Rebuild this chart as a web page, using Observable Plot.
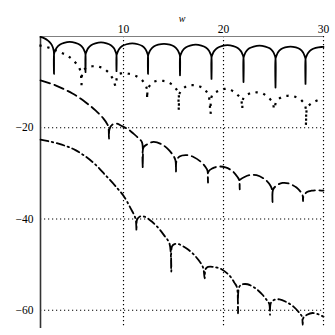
<!DOCTYPE html>
<html><head><meta charset="utf-8">
<script src="https://cdn.jsdelivr.net/npm/d3@7"></script>
<script src="https://cdn.jsdelivr.net/npm/@observablehq/plot@0.6"></script>
<style>body{margin:0;background:#fff}</style>
</head><body><div id="chart"></div>
<script>
const xTicks = [10, 20, 30];
const yTicks = [-20, -40, -60];
const xLabel = "w";

// [w, dB]
const solidCurve = [
  [1.7,-0.1],[2.1,-0.4],[2.45,-0.9],[2.75,-1.6],[2.92,-2.3],[3.0,-2.9],[3.04,-3.4],[3.05,-8.2],
  [3.06,-3.8],[3.15,-3.2],[3.3,-2.5],[3.62,-1.8],[4.06,-1.4],[4.62,-1.2],[5.19,-1.4],[5.63,-1.8],[5.95,-2.5],[6.1,-3.2],[6.19,-3.8],[6.2,-7.8],
  [6.21,-3.9],[6.3,-3.3],[6.45,-2.6],[6.76,-1.9],[7.19,-1.5],[7.75,-1.3],[8.31,-1.5],[8.74,-1.9],[9.05,-2.6],[9.2,-3.3],[9.29,-3.9],[9.3,-7.6],
  [9.31,-4.1],[9.4,-3.5],[9.55,-2.8],[9.87,-2.1],[10.31,-1.7],[10.88,-1.5],[11.44,-1.7],[11.88,-2.1],[12.2,-2.8],[12.35,-3.5],[12.44,-4.1],[12.45,-8.2],
  [12.46,-4.2],[12.55,-3.6],[12.71,-2.9],[13.03,-2.2],[13.47,-1.8],[14.05,-1.6],[14.63,-1.8],[15.07,-2.2],[15.39,-2.9],[15.55,-3.6],[15.64,-4.2],[15.65,-8.5],
  [15.66,-4.4],[15.75,-3.8],[15.9,-3.1],[16.22,-2.4],[16.66,-2.0],[17.23,-1.8],[17.79,-2.0],[18.23,-2.4],[18.55,-3.1],[18.7,-3.8],[18.79,-4.4],[18.8,-9.3],
  [18.81,-4.5],[18.9,-3.9],[19.06,-3.2],[19.38,-2.5],[19.82,-2.1],[20.4,-1.9],[20.98,-2.1],[21.42,-2.5],[21.74,-3.2],[21.9,-3.9],[21.99,-4.5],[22.0,-10.0],
  [22.01,-4.6],[22.1,-4.0],[22.26,-3.3],[22.58,-2.6],[23.02,-2.2],[23.6,-2.0],[24.18,-2.2],[24.62,-2.6],[24.94,-3.3],[25.1,-4.0],[25.19,-4.6],[25.2,-11.2],
  [25.21,-4.8],[25.3,-4.2],[25.44,-3.5],[25.74,-2.8],[26.16,-2.4],[26.7,-2.2],[27.24,-2.4],[27.66,-2.8],[27.96,-3.5],[28.1,-4.2],[28.19,-4.8],[28.2,-10.4],
  [28.21,-4.9],[28.3,-4.3],[28.46,-3.6],[28.78,-2.9],[29.22,-2.5],[29.8,-2.3],[30,-2.3]
];

const dottedCurve = [
  [1.7,-2.0],[2.6,-2.5],[3.6,-3.4],[4.4,-4.2],[5.1,-5.5],[5.6,-7.0],[5.75,-8.6],[5.8,-10.5],[5.85,-8.5],
  [6.2,-7.0],[7.1,-6.5],[7.9,-6.9],[8.55,-8.0],[9.0,-9.6],[9.2,-10.8],[9.35,-9.0],
  [9.6,-8.2],[10.3,-8.1],[11.2,-8.6],[11.95,-9.8],[12.3,-11.2],[12.37,-13.6],[12.45,-11.5],
  [12.97,-10.0],[13.85,-9.7],[14.7,-10.3],[15.3,-11.6],[15.5,-12.4],[15.53,-16.2],[15.6,-12.5],
  [16.3,-10.9],[17.2,-10.7],[18.0,-11.4],[18.5,-12.9],[18.7,-16.9],[18.85,-13.0],
  [19.6,-11.8],[20.45,-11.5],[21.2,-12.4],[21.75,-13.8],[21.87,-15.8],[22.0,-13.5],
  [22.9,-12.3],[23.9,-12.5],[24.5,-13.4],[24.95,-14.6],[25.05,-15.9],[25.35,-14.0],
  [26.1,-13.1],[27.0,-13.1],[27.8,-14.0],[28.2,-15.5],[28.25,-19.5],[28.4,-15.5],
  [29.0,-14.4],[29.9,-13.6],[30,-13.6]
];

const dashedCurve = [
  [1.7,-9.6],[3.2,-10.7],[4.9,-12.5],[6.2,-14.4],[7.2,-16.2],[8.0,-18.0],[8.4,-19.3],[8.5,-19.9],[8.55,-22.4],
  [8.6,-20.3],[8.9,-19.3],[9.3,-19.1],[9.9,-19.7],[10.5,-20.4],[11.0,-21.3],[11.5,-22.3],[11.85,-23.2],[11.92,-28.8],
  [12.0,-24.3],[12.4,-23.6],[13.0,-23.1],[13.8,-23.6],[14.5,-24.8],[15.0,-26.2],[15.2,-27.2],[15.25,-29.6],
  [15.3,-27.3],[15.6,-26.3],[16.3,-26.0],[17.0,-26.4],[17.7,-27.4],[18.2,-28.6],[18.4,-29.4],[18.45,-32.0],
  [18.5,-29.6],[18.9,-28.9],[19.5,-28.5],[20.2,-28.7],[20.9,-29.5],[21.4,-30.8],[21.58,-31.5],[21.62,-33.5],
  [21.68,-31.4],[22.1,-30.8],[22.6,-30.4],[23.3,-30.4],[24.2,-31.4],[24.7,-32.7],[24.85,-33.5],[24.9,-36.3],
  [24.95,-33.6],[25.35,-32.6],[25.9,-32.1],[26.5,-32.2],[27.3,-33.1],[27.8,-34.3],[27.92,-34.9],[27.95,-36.1],
  [28.0,-35.0],[28.35,-34.1],[28.8,-33.8],[29.4,-33.7],[30,-33.8]
];

const dashDotCurve = [
  [1.7,-22.6],[3.5,-23.5],[5.2,-24.9],[6.9,-27.5],[8.2,-30.4],[9.4,-33.3],[10.0,-34.9],[10.7,-37.6],[11.2,-39.9],[11.3,-42.5],
  [11.35,-40.2],[11.6,-39.5],[12.1,-39.5],[12.8,-40.5],[13.5,-42.0],[14.1,-43.7],[14.6,-45.4],[14.78,-51.5],
  [14.85,-46.0],[15.1,-45.5],[15.5,-45.5],[16.2,-46.3],[16.9,-47.5],[17.5,-49.0],[17.95,-50.6],[18.12,-53.0],
  [18.2,-51.0],[18.45,-50.5],[19.0,-50.5],[19.8,-51.0],[20.6,-52.4],[21.1,-54.0],[21.35,-55.0],[21.45,-60.7],
  [21.55,-55.0],[21.8,-54.4],[22.4,-54.3],[23.2,-55.2],[23.9,-56.6],[24.4,-58.0],[24.58,-58.6],[24.65,-61.0],
  [24.72,-58.5],[25.0,-57.8],[25.6,-57.6],[26.3,-58.2],[27.0,-59.2],[27.6,-60.6],[27.85,-61.4],[27.92,-63.2],
  [28.0,-61.6],[28.35,-61.0],[28.9,-60.6],[29.5,-60.9],[30,-61.4]
];

const serif = '"Liberation Serif","Times New Roman",serif';
const grid = {stroke: "#000", strokeWidth: 1.2, strokeDasharray: "1.2,2.8"};

const chart = Plot.plot({
  width: 335, height: 335,
  marginLeft: 40, marginRight: 12, marginTop: 36, marginBottom: 7,
  x: {domain: [1.7, 30], axis: null},
  y: {domain: [-64, 0], axis: null},
  style: {background: "#fff", fontFamily: serif, color: "#000"},
  marks: [
    Plot.ruleX(xTicks, grid),
    Plot.ruleY(yTicks, grid),
    Plot.ruleY([0], {stroke: "#808080", strokeWidth: 1}),
    Plot.ruleX([1.7], {stroke: "#333", strokeWidth: 1.6}),
    Plot.line(solidCurve, {stroke: "#000", strokeWidth: 1.8, curve: "catmull-rom"}),
    Plot.line(dottedCurve, {stroke: "#000", strokeWidth: 2.2, strokeDasharray: "0.1,7.8", strokeLinecap: "square", curve: "catmull-rom"}),
    Plot.line(dashedCurve, {stroke: "#000", strokeWidth: 1.8, strokeDasharray: "10,4.5", curve: "catmull-rom"}),
    Plot.line(dashDotCurve, {stroke: "#000", strokeWidth: 1.8, strokeDasharray: "8,3.5,1.5,3.5", curve: "catmull-rom"}),
    Plot.text(xTicks, {x: d => d, frameAnchor: "top", dy: -12, text: d => String(d), fontSize: 11.5}),
    Plot.text(yTicks, {y: d => d, frameAnchor: "left", dx: -7, textAnchor: "end", text: d => "\u2212" + Math.abs(d), fontSize: 11.5}),
    Plot.text([xLabel], {frameAnchor: "top", dy: -22, text: d => d, fontStyle: "italic", fontSize: 10})
  ]
});
document.getElementById("chart").appendChild(chart);
</script>
</body></html>
